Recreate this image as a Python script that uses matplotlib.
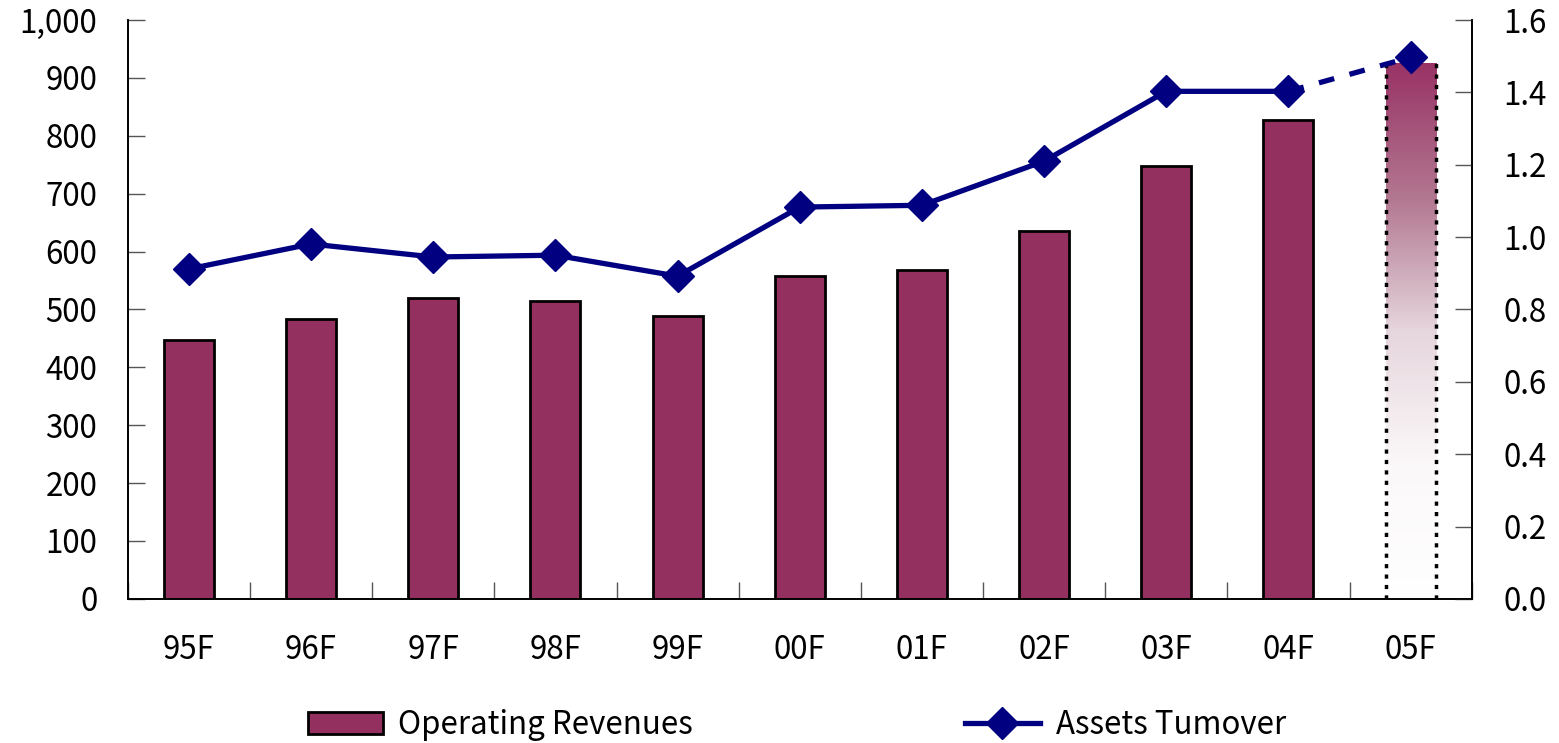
import numpy as np
import matplotlib
matplotlib.use('Agg')
import matplotlib.pyplot as plt
from matplotlib.lines import Line2D
from matplotlib.patches import Patch
from matplotlib.ticker import FuncFormatter

plt.rcParams['font.family'] = ['Noto Sans CJK JP', 'DejaVu Sans']

years = ['95F', '96F', '97F', '98F', '99F', '00F', '01F', '02F', '03F', '04F', '05F']
revenues = [448, 484, 519, 514, 488, 557, 569, 635, 747, 828, 926]
turnover = [0.912, 0.981, 0.945, 0.950, 0.892, 1.083, 1.088, 1.21, 1.403, 1.403, 1.497]

bar_col = '#933060'
line_col = '#000080'
fs = 22.5

fig = plt.figure(figsize=(15.59, 7.43), dpi=100)
ax = fig.add_axes([0.082, 0.194, 0.862, 0.779])
ax2 = ax.twinx()

x = np.arange(len(years))
ax.bar(x[:-1], revenues[:-1], width=0.41, color=bar_col,
       edgecolor='black', linewidth=2)

# forecast year: gradient bar with dotted sides
fb = ax.bar(x[-1], revenues[-1], width=0.41, facecolor='none', edgecolor='none')[0]
grad = np.linspace(0, 1, 256).reshape(-1, 1)
cmap = matplotlib.colors.LinearSegmentedColormap.from_list(
    'fade', ['white', '#fbf8f9', '#e6d6dd', '#b27790', '#993366'])
x0, w, h = fb.get_x(), fb.get_width(), fb.get_height()
im = ax.imshow(grad, extent=[x0, x0 + w, 0, h], origin='lower', aspect='auto',
               cmap=cmap, zorder=1)
im.set_clip_path(fb)
ax.vlines([x0, x0 + w], 0, h, colors='black', linestyles=(0, (1.2, 1.8)),
          linewidth=2.5, zorder=3)

ax2.plot(x[:-1], turnover[:-1], color=line_col, linewidth=3.8, marker='D',
         markersize=16, solid_joinstyle='round')
ax2.plot(x[-2:], turnover[-2:], color=line_col, linewidth=3.8, linestyle=(0, (3, 3)))
ax2.plot(x[-1], turnover[-1], color=line_col, marker='D', markersize=16, linestyle='none')

ax.set_xlim(-0.5, len(years) - 0.5)
ax.set_ylim(0, 1000)
ax2.set_ylim(0, 1.6)
ax.set_yticks(np.arange(0, 1001, 100))
ax.yaxis.set_major_formatter(FuncFormatter(lambda v, p: '{:,.0f}'.format(v)))
ax2.set_yticks(np.arange(0, 1.61, 0.2))
ax2.yaxis.set_major_formatter(FuncFormatter(lambda v, p: '{:.1f}'.format(v)))

ax.set_xticks(x)
ax.set_xticklabels(years)
ax.set_xticks(np.arange(-0.5, len(years), 1), minor=True)
ax.tick_params(axis='x', which='major', length=0, pad=25, labelsize=fs)
ax.tick_params(axis='x', which='minor', length=12, direction='in', width=1, color='#555555')
ax.tick_params(axis='y', length=12, direction='in', width=1, color='#555555',
               labelsize=fs, pad=22)
ax2.tick_params(axis='y', length=12, direction='in', width=1, color='#555555',
                labelsize=fs, pad=23)

for a in (ax, ax2):
    a.spines['top'].set_visible(False)
    for s in ('left', 'right', 'bottom'):
        a.spines[s].set_linewidth(1.2)

handles = [Patch(facecolor=bar_col, edgecolor='black', linewidth=2),
           Line2D([], [], color=line_col, linewidth=3.8, marker='D', markersize=16)]
fig.legend(handles, ['Operating Revenues', 'Assets Tumover'], loc='lower center',
           bbox_to_anchor=(0.511, -0.035), ncol=2, frameon=False, fontsize=fs,
           columnspacing=8.7, handlelength=2.4, handleheight=0.75, handletextpad=0.5)

fig.savefig('out.png', dpi=100)
